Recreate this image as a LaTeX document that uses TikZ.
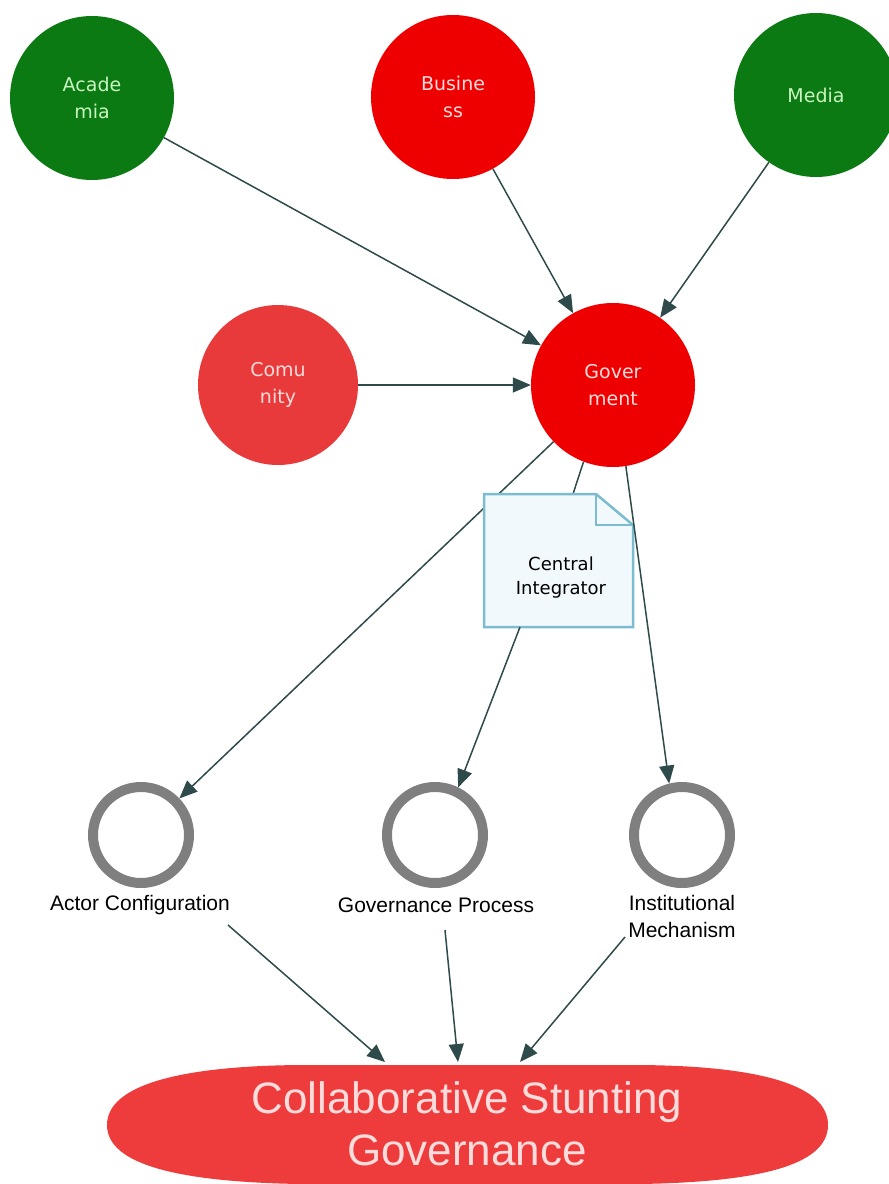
\documentclass[tikz,border=0pt]{standalone}
\usepackage{fontspec}
\setmainfont{Liberation Sans}
\newfontfamily\dvs{DejaVu Sans}
\usetikzlibrary{arrows.meta}
\definecolor{dgreen}{HTML}{0B7A12}
\definecolor{bred}{HTML}{EE0000}
\definecolor{cred}{HTML}{E83A3A}
\definecolor{ered}{HTML}{EE3B3B}
\definecolor{arrowc}{HTML}{2E4A4A}
\definecolor{ringc}{HTML}{7F7F7F}
\definecolor{notefill}{HTML}{F2F9FC}
\definecolor{noteline}{HTML}{7CBCD0}
\definecolor{gtext}{HTML}{C8F5C0}
\definecolor{rtext}{HTML}{FFDCDC}
\tikzset{
  actor/.style={circle, minimum size=164pt, inner sep=0pt, align=center, font=\dvs\fontsize{19}{27}\selectfont},
  greenactor/.style={actor, fill=dgreen, text=gtext},
  redactor/.style={actor, fill=bred, text=rtext},
  ring/.style={circle, draw=ringc, line width=10pt, minimum size=96pt, inner sep=0pt},
  lbl/.style={font=\fontsize{21}{27}\selectfont, align=center, text=black},
  conn/.style={draw=arrowc, line width=1.5pt, -{Triangle[length=18pt,width=15pt]}},
  plain/.style={draw=arrowc, line width=1.5pt}
}
\begin{document}
\begin{tikzpicture}[x=1pt,y=-1pt]
\useasboundingbox (0,0) rectangle (889,1184);
% actors
\node[greenactor] (acad) at (92,98) {Acade\\mia};
\node[redactor] (bus) at (453,97) {Busine\\ss};
\node[greenactor] (media) at (816,95) {Media};
\node[actor, fill=cred, text=rtext, minimum size=160pt] (comm) at (278,385) {Comu\\nity};
\node[redactor] (gov) at (613,385) {Gover\\ment};
% rings
\node[ring] (ac) at (141,835) {};
\node[ring] (gp) at (435,835) {};
\node[ring] (im) at (682,835) {};
\node[lbl] (acl) at (140,905) {Actor Configuration};
\node[lbl] (gpl) at (436,905) {Governance Process};
\node[lbl] (iml) at (682,916) {Institutional\\Mechanism};
% bottom shape
\fill[ered] (107,1125) .. controls (107,1085) and (180,1066) .. (300,1065) -- (640,1065)
  .. controls (760,1066) and (828,1085) .. (828,1125)
  .. controls (828,1165) and (760,1182) .. (640,1184) -- (300,1184)
  .. controls (180,1182) and (107,1165) .. (107,1125) -- cycle;
\node[text=rtext, align=center, font=\fontsize{44}{52}\selectfont] (cg) at (467,1124) {Collaborative Stunting\\Governance};
% connectors
\draw[conn] (acad) -- (gov);
\draw[conn] (bus) -- (gov);
\draw[conn] (media) -- (gov);
\draw[conn] (comm) -- (gov);
\draw[conn] (gov) -- (ac);
% note
\coordinate (n1) at (484,494);
\coordinate (n2) at (596,494);
\coordinate (n3) at (633,525);
\coordinate (n4) at (633,627);
\coordinate (n5) at (484,627);
\coordinate (ntop) at (573,494);
\coordinate (nbot) at (520,627);
\draw[plain] (gov.-111) -- (ntop);
\filldraw[fill=notefill, draw=noteline, line width=2.5pt] (n1) -- (n2) -- (n3) -- (n4) -- (n5) -- cycle;
\draw[noteline, line width=2.5pt] (n2) -- (596,525) -- (n3);
\node[font=\dvs\fontsize{18}{24}\selectfont, align=center] (note) at (561,578) {Central\\Integrator};
\draw[conn] (nbot) -- (gp.64);
\draw[conn] (gov.-81) -- (im.104);
% bottom connectors
\coordinate (e1) at (385,1062);
\coordinate (e2) at (458,1062);
\coordinate (e3) at (520,1062);
\coordinate (s1) at (228,925);
\coordinate (s2) at (445,930);
\coordinate (s3) at (625,937);
\draw[conn] (s1) -- (e1);
\draw[conn] (s2) -- (e2);
\draw[conn] (s3) -- (e3);
\end{tikzpicture}
\end{document}
